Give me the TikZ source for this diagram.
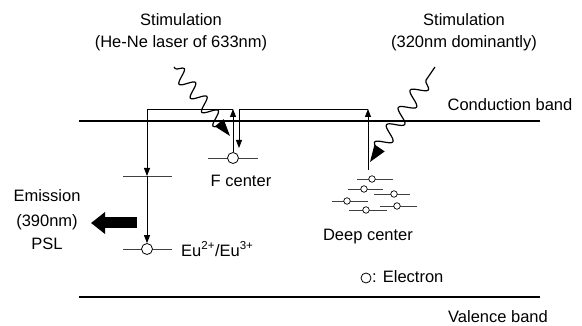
\documentclass[tikz,border=0pt]{standalone}
\usepackage{fontspec}
\setmainfont{Liberation Sans}
\usetikzlibrary{arrows.meta,decorations.pathmorphing}
\tikzset{
  band/.style={line width=2.4pt, black},
  conn/.style={line width=0.8pt, black},
  lvl/.style={line width=0.8pt, black!75},
  thintip/.style={-{Triangle[length=8pt,width=6pt]}},
  elec/.style={circle, draw=black, line width=0.8pt, fill=white, minimum size=11pt, inner sep=0pt},
  selec/.style={circle, draw=black, line width=0.7pt, fill=white, minimum size=6.5pt, inner sep=0pt},
  lbl/.style={font=\fontsize{16.5}{19}\selectfont, inner sep=0pt, align=center},
  wave/.style={line width=1.2pt, decorate},
}
\begin{document}
\begin{tikzpicture}[x=1pt,y=-1pt]
\useasboundingbox (0,0) rectangle (582,326);
% bands
\coordinate (cbL) at (79,121); \coordinate (cbR) at (540,121);
\coordinate (vbL) at (79,297); \coordinate (vbR) at (540,297);
\draw[band] (cbL) -- (cbR);
\draw[band] (vbL) -- (vbR);
\node[lbl] (cbt) at (510,105) {Conduction band};
\node[lbl] (vbt) at (498,317) {Valence band};
% stimulation labels
\node[lbl] (st1) at (181,20) {Stimulation};
\node[lbl] (st1b) at (181,43) {(He-Ne laser of 633nm)};
\node[lbl] (st2) at (464,20) {Stimulation};
\node[lbl] (st2b) at (464,43) {(320nm dominantly)};
% levels
\draw[lvl] (208,158) -- (258,158);
\draw[lvl] (123,176) -- (172,176);
\draw[lvl] (123,249) -- (172,249);
\draw[lvl] (357,179) -- (393,179);
\draw[lvl] (348,189) -- (383,189);
\draw[lvl] (374,194) -- (410,194);
\draw[lvl] (332,201) -- (368,201);
\draw[lvl] (380,206) -- (417,206);
\draw[lvl] (349,210) -- (387,210);
% electrons
\node[elec] (fe) at (233,158) {};
\node[elec] (eu) at (147,249) {};
\node[selec] (d1) at (372,179) {};
\node[selec] (d2) at (364,189) {};
\node[selec] (d3) at (394,194) {};
\node[selec] (d4) at (347,201) {};
\node[selec] (d5) at (397,206) {};
\node[selec] (d6) at (366,210) {};
% connectors
\coordinate (ftop) at (233,109);
\coordinate (trapL) at (147,176);
\coordinate (dtop) at (368,109);
\coordinate (dbot) at (368,170);
\coordinate (fin) at (239,148);
\draw[conn,thintip] (fe.north) -- (ftop);
\draw[conn,thintip] (ftop) -| (trapL);
\draw[conn,thintip] (trapL) -- (eu.north);
\draw[conn,thintip] (dbot) -- (dtop);
\draw[conn,thintip] (dtop) -| (fin);
% wavy stimulation arrows
\coordinate (w1s) at (174,67); \coordinate (w1e) at (230,136);
\coordinate (w2s) at (435,67); \coordinate (w2e) at (370,162);
\draw[wave, decoration={snake, amplitude=7pt, segment length=18pt, pre length=2pt, post length=6pt}, -{Triangle[length=17pt,width=11pt]}] (w1s) -- (w1e);
\draw[wave, decoration={snake, amplitude=7.5pt, segment length=21pt, pre length=16pt, post length=6pt}, -{Triangle[length=17pt,width=12pt]}] (w2s) -- (w2e);
% labels
\node[lbl] (fct) at (241,181) {F center};
\node[lbl, anchor=west] (eut) at (181,249) {Eu\textsuperscript{2+}/Eu\textsuperscript{3+}};
\node[lbl] (dct) at (368,237) {Deep center};
\node[elec, minimum size=10pt] (lege) at (366,278) {};
\node[lbl, anchor=west] (legt) at (372,277) {: Electron};
% emission
\node[lbl] (em1) at (47,196) {Emission};
\node[lbl] (em2) at (47,222) {(390nm)};
\node[lbl] (em3) at (47,244) {PSL};
\coordinate (emA) at (137,223); \coordinate (emB) at (91,223);
\draw[line width=11pt, -{Triangle[length=14pt,width=21pt]}] (emA) -- (emB);
\end{tikzpicture}
\end{document}
